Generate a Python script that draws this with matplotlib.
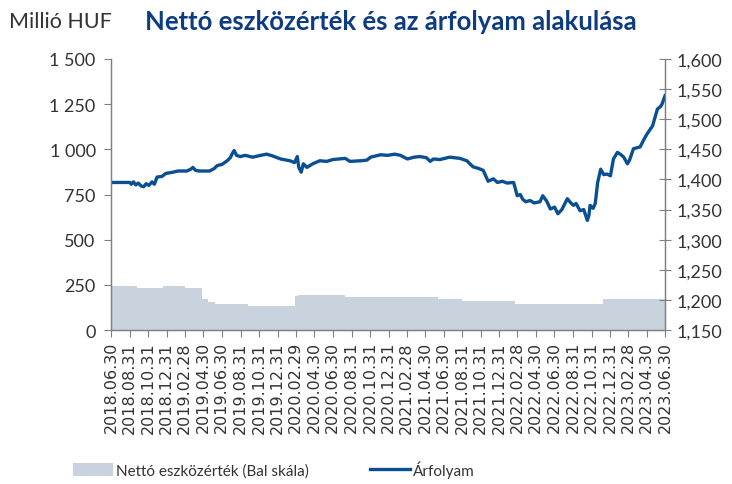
import numpy as np
import pandas as pd
import matplotlib
matplotlib.use("Agg")
import matplotlib.pyplot as plt
from matplotlib.patches import Patch
from matplotlib.lines import Line2D
from matplotlib.ticker import FuncFormatter

plt.rcParams['font.family'] = ['Lato', 'DejaVu Sans']

# ---- data ----
nav_dates = ["2018-06-30", "2018-09-24", "2018-12-18", "2019-02-28", "2019-04-26",
             "2019-05-15", "2019-06-08", "2019-09-25", "2020-02-28", "2020-03-08",
             "2020-08-10", "2021-06-12", "2021-08-30", "2022-02-22", "2022-12-09",
             "2023-06-30"]
nav_values = [245, 232, 245, 232, 171, 157, 144, 135, 190, 194, 181, 172, 159, 144, 172, 172]

price_dates = [
    "2018-06-30", "2018-08-31", "2018-09-05", "2018-09-12", "2018-09-20", "2018-09-28",
    "2018-10-08", "2018-10-16", "2018-10-24", "2018-11-02", "2018-11-12", "2018-11-20",
    "2018-11-29", "2018-12-15", "2018-12-28", "2019-01-20", "2019-02-05", "2019-03-07",
    "2019-03-20", "2019-03-27", "2019-04-05", "2019-04-18", "2019-05-21", "2019-06-05",
    "2019-06-15", "2019-07-01", "2019-07-18", "2019-07-28", "2019-08-06", "2019-08-10",
    "2019-08-18", "2019-08-30", "2019-09-15", "2019-10-10", "2019-11-05", "2019-11-25",
    "2019-12-15", "2020-01-10", "2020-02-10", "2020-02-25", "2020-03-05", "2020-03-10",
    "2020-03-18", "2020-03-25", "2020-04-06", "2020-04-25", "2020-05-18", "2020-06-10",
    "2020-06-30", "2020-07-20", "2020-08-10", "2020-08-25", "2020-09-30", "2020-10-20",
    "2020-11-02", "2020-12-05", "2020-12-28", "2021-01-20", "2021-02-08", "2021-03-03",
    "2021-03-25", "2021-04-14", "2021-05-05", "2021-05-17", "2021-05-28", "2021-06-18",
    "2021-07-20", "2021-08-23", "2021-09-15", "2021-10-05", "2021-10-25", "2021-11-08",
    "2021-11-24", "2021-12-11", "2021-12-25", "2022-01-10", "2022-01-25", "2022-02-16",
    "2022-02-28", "2022-03-10", "2022-03-18", "2022-03-28", "2022-04-11", "2022-04-25",
    "2022-05-14", "2022-05-23", "2022-06-05", "2022-06-17", "2022-07-01", "2022-07-12",
    "2022-07-25", "2022-08-12", "2022-08-22", "2022-09-01", "2022-09-10", "2022-09-23",
    "2022-10-05", "2022-10-17", "2022-10-22", "2022-10-26", "2022-11-05", "2022-11-12",
    "2022-11-20", "2022-11-30", "2022-12-10", "2022-12-21", "2023-01-01", "2023-01-11",
    "2023-01-24", "2023-02-05", "2023-02-14", "2023-02-26", "2023-03-05", "2023-03-18",
    "2023-04-09", "2023-04-20", "2023-05-01", "2023-05-20", "2023-06-05", "2023-06-15",
    "2023-06-20", "2023-06-30"]
price_values = [
    1395, 1395, 1392, 1396, 1391, 1394,
    1389, 1388, 1393, 1390, 1396, 1392,
    1404, 1405, 1410, 1412, 1414, 1414,
    1417, 1420, 1415, 1414, 1414, 1418,
    1423, 1425, 1431, 1436, 1445, 1448,
    1440, 1438, 1440, 1437, 1440, 1442,
    1439, 1434, 1431, 1428, 1438, 1420,
    1412, 1426, 1420, 1426, 1431, 1430,
    1433, 1434, 1435, 1430, 1431, 1432,
    1437, 1441, 1440, 1442, 1440, 1434,
    1437, 1438, 1436, 1430, 1434, 1433,
    1437, 1435, 1431, 1421, 1418, 1415,
    1397, 1401, 1395, 1397, 1394, 1395,
    1373, 1375, 1367, 1363, 1365, 1361,
    1363, 1373, 1364, 1351, 1354, 1343,
    1350, 1368, 1362, 1357, 1360, 1348,
    1350, 1332, 1340, 1357, 1352, 1360,
    1395, 1417, 1408, 1409, 1406, 1434,
    1445, 1441, 1437, 1426, 1432, 1451,
    1454, 1465, 1475, 1489, 1517, 1521,
    1525, 1539]

tick_dates = pd.date_range("2018-06-30", "2023-06-30", freq="2ME")

title = "Nettó eszközérték és az árfolyam alakulása"
left_label = "Millió HUF"
legend_labels = ["Nettó eszközérték (Bal skála)", "Árfolyam"]

area_color = "#c9d3de"
line_color = "#0a4f91"
title_color = "#0d3c82"
text_color = "#333333"
spine_color = "#808080"

fig = plt.figure(figsize=(7.32, 4.85), dpi=100)
ax = fig.add_axes([0.1516, 0.3175, 0.7569, 0.5588])
ax2 = ax.twinx()

nd = pd.to_datetime(nav_dates)
ax.fill_between(nd, nav_values, 0, step="post", color=area_color, lw=0)
ax.set_ylim(0, 1500)
ax.set_yticks(np.arange(0, 1501, 250))
ax.yaxis.set_major_formatter(FuncFormatter(lambda v, p: f"{int(v):,}".replace(",", " ")))

pdt = pd.to_datetime(price_dates)
ax2.plot(pdt, price_values, color=line_color, lw=2.4)
ax2.set_ylim(1150, 1600)
ax2.set_yticks(np.arange(1150, 1601, 50))
ax2.yaxis.set_major_formatter(FuncFormatter(lambda v, p: f"{int(v):,}"))

ax.set_xlim(pd.Timestamp("2018-06-30"), pd.Timestamp("2023-06-30"))
ax.set_xticks(tick_dates)
ax.set_xticklabels([d.strftime("%Y.%m.%d") for d in tick_dates], rotation=90,
                   family="DejaVu Sans", fontsize=11.5, color=text_color)

for a in (ax, ax2):
    a.spines["top"].set_visible(False)
    for s in ("left", "right", "bottom"):
        a.spines[s].set_color(spine_color)
        a.spines[s].set_linewidth(0.9)
ax.tick_params(axis="y", direction="out", length=5, color=spine_color,
               labelsize=13, labelcolor=text_color, pad=6)
ax.tick_params(axis="x", direction="out", length=5, color=spine_color, pad=3)
ax2.tick_params(axis="y", direction="inout", length=8, color=spine_color,
                labelsize=13, labelcolor=text_color, pad=4)

fig.text(0.012, 0.955, left_label, fontsize=15.5, color=text_color, va="center", ha="left")
fig.text(0.198, 0.955, title, fontsize=18.5, fontweight="bold", color=title_color,
         va="center", ha="left")

handles = [Patch(facecolor=area_color, edgecolor="none"),
           Line2D([0], [0], color=line_color, lw=2.4)]
fig.legend(handles, legend_labels, loc="center", bbox_to_anchor=(0.374, 0.031), ncol=2,
           frameon=False, fontsize=11, handlelength=2.6, handleheight=0.95,
           handletextpad=0.2, columnspacing=4.0, labelcolor=text_color)

fig.savefig("out.png", dpi=100)
